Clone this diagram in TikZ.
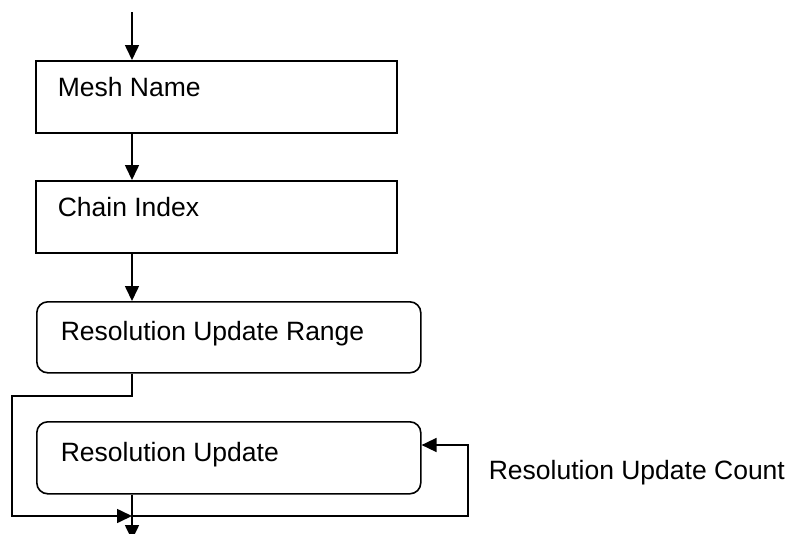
\documentclass[tikz,border=0pt]{standalone}
\usepackage{fontspec}
\setmainfont{Liberation Sans}
\usetikzlibrary{arrows.meta,calc}
\begin{document}
\begin{tikzpicture}[x=1pt,y=-1pt,
  line width=1.6pt,
  box/.style={draw,line width=1.6pt,inner sep=0pt,anchor=north west},
  rbox/.style={box,rounded corners=11pt},
  lbl/.style={anchor=base west,inner sep=0pt,font=\fontsize{26.5}{30}\selectfont},
  arr/.style={-{Triangle[length=15pt,width=14pt]}}]
\useasboundingbox (0,0) rectangle (789,533);
\node[box,minimum width=361pt,minimum height=72pt] (mesh) at (35,60) {};
\node[lbl] (meshT) at (57,96) {Mesh Name};
\node[box,minimum width=361pt,minimum height=72pt] (chain) at (35,180) {};
\node[lbl] (chainT) at (57,216) {Chain Index};
\node[rbox,minimum width=384pt,minimum height=71pt] (range) at (36,301) {};
\node[lbl] (rangeT) at (60,340) {Resolution Update Range};
\node[rbox,minimum width=384pt,minimum height=72pt] (upd) at (36,421) {};
\node[lbl] (updT) at (60,461) {Resolution Update};
\node[lbl] (cnt) at (488,479) {Resolution Update Count};
\coordinate (top) at (132,12);
\coordinate (j) at (132,516);
\coordinate (bot) at (132,540);
\draw[arr] (top) -- (top |- mesh.north);
\draw[arr] (mesh.south -| top) -- (chain.north -| top);
\draw[arr] (chain.south -| top) -- (range.north -| top);
\draw[arr] (range.south -| top) -- (132,396) -- (12,396) -- (12,516) -- (j);
\draw[arr] (j) -- (468,516) -- (468,445) -- (upd.east |- 0,445);
\draw[arr] (upd.south -| top) -- (bot);
\end{tikzpicture}
\end{document}
